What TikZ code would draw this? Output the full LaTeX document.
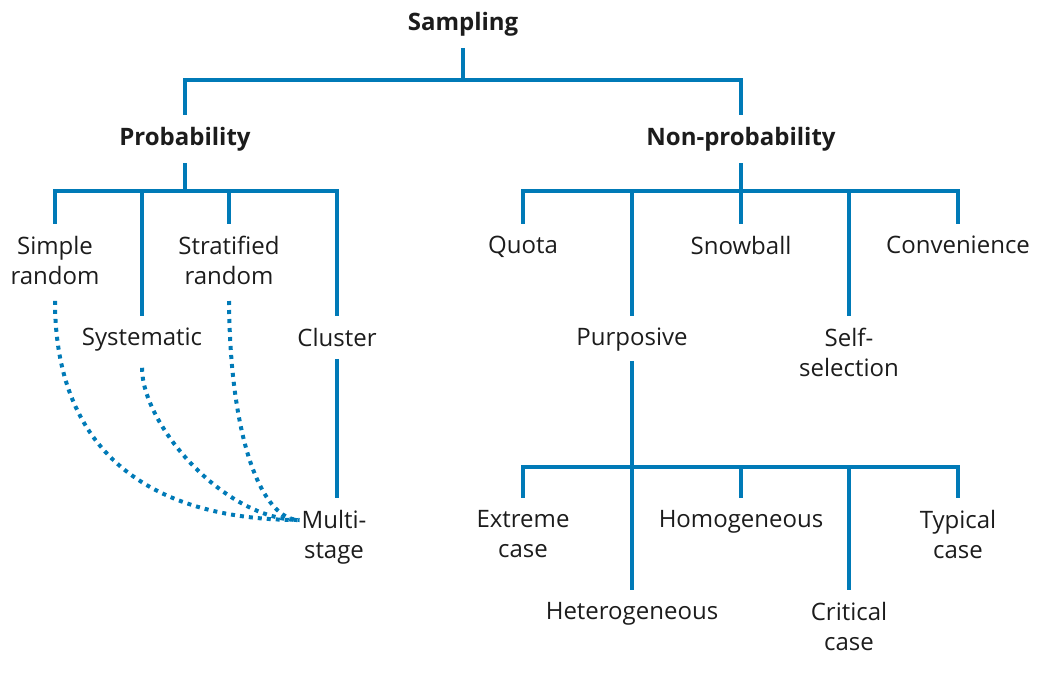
\documentclass[tikz,border=0pt]{standalone}
\usepackage{fontspec}
\setmainfont{Open Sans}
\definecolor{sblue}{RGB}{0,122,183}
\definecolor{stext}{RGB}{28,28,28}
\begin{document}
\begin{tikzpicture}[x=1pt,y=-1pt,
  conn/.style={draw=sblue, line width=4pt},
  dotc/.style={draw=sblue, line width=4pt, dash pattern=on 4pt off 5pt, shorten <=4pt},
  lbl/.style={anchor=north, align=center, inner xsep=0pt, inner ysep=12pt, text=stext,
              font=\fontsize{24}{30}\selectfont},
  head/.style={lbl, inner ysep=12pt, font=\fontsize{24}{30}\selectfont\bfseries}]
\useasboundingbox (0,0) rectangle (1054,678);

% headings
\node[head, anchor=base] (samp) at (463,30) {Sampling};
\node[head] (prob) at (185,115) {Probability};
\node[head] (nonp) at (741,115) {Non-probability};

% probability branch
\node[lbl] (simple) at (55,224) {Simple\\random};
\node[lbl] (syst)   at (142,316) {Systematic};
\node[lbl] (strat)  at (229,224) {Stratified\\random};
\node[lbl] (clus)   at (337,316) {Cluster};
\node[lbl] (multi)  at (334,498) {Multi-\\stage};

% non-probability branch
\node[lbl] (quota) at (523,224) {Quota};
\node[lbl] (purp)  at (632,316) {Purposive};
\node[lbl] (snow)  at (741,224) {Snowball};
\node[lbl] (self)  at (849,316) {Self-\\selection};
\node[lbl] (conv)  at (958,224) {Convenience};

% purposive sub-branch
\node[lbl] (extr)  at (523,498) {Extreme\\case};
\node[lbl] (hetr)  at (632,590) {Heterogeneous};
\node[lbl] (homo)  at (741,498) {Homogeneous};
\node[lbl] (crit)  at (849,590) {Critical\\case};
\node[lbl] (typ)   at (958,498) {Typical\\case};

% junctions
\coordinate (j0) at (463,80);
\coordinate (j1) at (185,191);
\coordinate (j2) at (741,191);
\coordinate (j3) at (632,467);
\coordinate (msin) at ([xshift=-2pt,yshift=-22pt]multi.north west);

% connectors
\draw[conn] (samp.south) -- (j0);
\draw[conn] (j0) -| (prob.north);
\draw[conn] (j0) -| (nonp.north);

\draw[conn] (prob.south) -- (j1);
\draw[conn] (j1) -| (simple.north);
\draw[conn] (j1) -| (syst.north);
\draw[conn] (j1) -| (strat.north);
\draw[conn] (j1) -| (clus.north);
\draw[conn] (clus.south) -- (clus.south |- multi.north);

\draw[conn] (nonp.south) -- (j2);
\draw[conn] (j2) -| (quota.north);
\draw[conn] (j2) -| (purp.north);
\draw[conn] (j2) -| (snow.north);
\draw[conn] (j2) -| (self.north);
\draw[conn] (j2) -| (conv.north);

\draw[conn] ([yshift=3pt]purp.south) -- (j3);
\draw[conn] (j3) -| (extr.north);
\draw[conn] (j3) -| (hetr.north);
\draw[conn] (j3) -| (homo.north);
\draw[conn] (j3) -| (crit.north);
\draw[conn] (j3) -| (typ.north);

% dotted links to multi-stage
\draw[dotc] (simple.south) .. controls (55,460) and (160,520) .. (msin);
\draw[dotc] (syst.south) .. controls (142,425) and (225,520) .. (msin);
\draw[dotc] (strat.south) .. controls (230,440) and (262,520) .. (msin);
\end{tikzpicture}
\end{document}
